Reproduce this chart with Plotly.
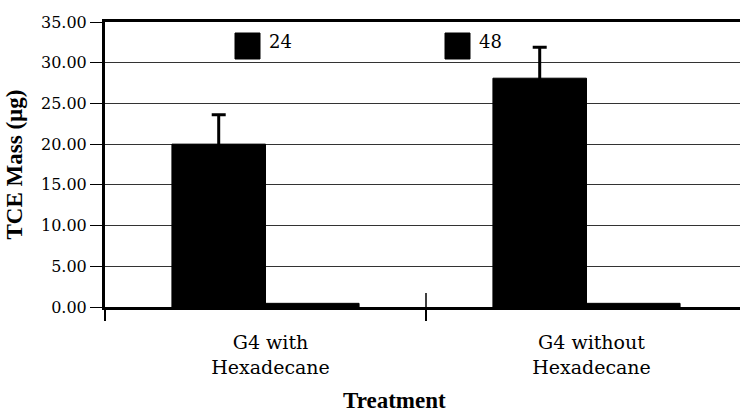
import plotly.graph_objects as go

# ---- data ----
categories = ["G4 with<br>Hexadecane", "G4 without<br>Hexadecane"]
series_names = ["24", "48"]
values_24 = [20.0, 28.1]
errors_24 = [3.6, 3.8]
values_48 = [0.45, 0.45]
y_ticks = [0, 5, 10, 15, 20, 25, 30, 35]

FONT_B = "Liberation Serif"
FONT = "DejaVu Serif"

fig = go.Figure()
fig.add_trace(go.Bar(
    x=categories, y=values_24, name=series_names[0],
    marker=dict(color="black", line=dict(color="black", width=1)),
    error_y=dict(type="data", array=errors_24, visible=True,
                 color="black", thickness=3, width=7),
    showlegend=False,
))
fig.add_trace(go.Bar(
    x=categories, y=values_48, name=series_names[1],
    marker=dict(color="black", line=dict(color="black", width=1)),
    showlegend=False,
))

W, H = 740, 414
L, R, T, B = 105, 0, 22, 107
pw, ph = W - L - R, H - T - B
cat_px = 321.0

fig.update_layout(
    width=W, height=H, autosize=False,
    margin=dict(l=L, r=R, t=T, b=B, pad=0),
    paper_bgcolor="white", plot_bgcolor="white",
    barmode="group", bargap=0.417, bargroupgap=0,
    font=dict(family=FONT, color="black"),
    showlegend=False,
)
fig.update_xaxes(
    type="category",
    range=[-0.5, -0.5 + pw / cat_px],
    showline=True, linecolor="black", linewidth=3, mirror=True,
    ticks="outside", tickson="boundaries", ticklen=11, tickwidth=1.5,
    tickcolor="black",
    tickfont=dict(family=FONT, size=19, color="black"),
    ticklabelshift=5, ticklabelstandoff=16,
    showgrid=False, zeroline=False,
)
fig.update_yaxes(
    range=[0, 35],
    tickvals=y_ticks, tickformat=".2f",
    showline=True, linecolor="black", linewidth=3,
    ticks="outside", ticklen=12, tickwidth=1, tickcolor="black",
    tickfont=dict(family=FONT, size=16, color="black"),
    showgrid=True, gridcolor="#333333", gridwidth=1,
    zeroline=False,
    title=dict(text="<b>TCE Mass (µg)</b>", font=dict(family=FONT_B, size=23), standoff=12),
)

# inward part of the category-boundary tick
fig.add_shape(type="line", xref="x", yref="paper", x0=0.5, x1=0.5, y0=0, y1=14 / ph,
              line=dict(color="black", width=1.5))

# x-axis title
fig.add_annotation(text="<b>Treatment</b>", xref="paper", yref="paper",
                   x=(394 - L) / pw, y=(T + ph - 414) / ph, xanchor="center", yanchor="bottom",
                   showarrow=False, borderpad=0,
                   font=dict(family=FONT_B, size=23, color="black"))

# legend (large square swatches)
legend_left_px = [235, 445]
for name, lx in zip(series_names, legend_left_px):
    fig.add_shape(type="rect", xref="paper", yref="paper",
                  x0=(lx - L) / pw, x1=(lx + 25 - L) / pw,
                  y0=(T + ph - 59) / ph, y1=(T + ph - 33) / ph,
                  fillcolor="black", line=dict(color="black", width=1))
    fig.add_annotation(text=name, xref="paper", yref="paper",
                       x=(lx + 32 - L) / pw, y=(T + ph - 41) / ph,
                       xanchor="left", yanchor="middle", showarrow=False,
                       font=dict(family=FONT, size=18, color="black"))

fig.write_html("out.html")
